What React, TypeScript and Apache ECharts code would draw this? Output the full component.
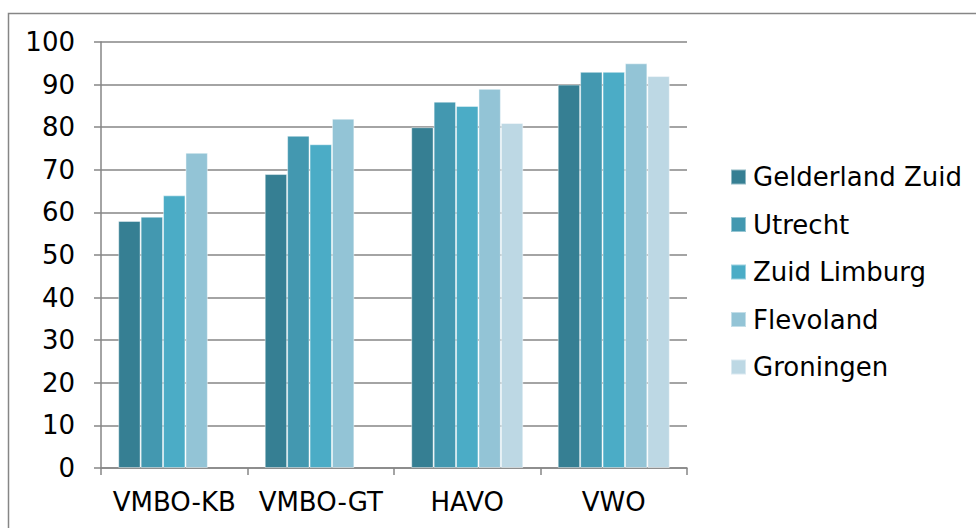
import React, { useEffect, useRef } from "react";
import * as echarts from "echarts";

const categories = ["VMBO-KB", "VMBO-GT", "HAVO", "VWO"];
const seriesNames = ["Gelderland Zuid", "Utrecht", "Zuid Limburg", "Flevoland", "Groningen"];
const gelderlandZuid = [58, 69, 80, 90];
const utrecht = [59, 78, 86, 93];
const zuidLimburg = [64, 76, 85, 93];
const flevoland = [74, 82, 89, 95];
const groningen = [null, null, 81, 92];
const colors = ["#367F93", "#4398B0", "#4BACC6", "#93C4D6", "#BDD8E4"];

export default function App() {
  const ref = useRef<HTMLDivElement>(null);
  useEffect(() => {
    if (!ref.current) return;
    const chart = echarts.init(ref.current, null, { renderer: "svg" });
    const data = [gelderlandZuid, utrecht, zuidLimburg, flevoland, groningen];
    const font = "DejaVu Sans, Verdana, sans-serif";
    chart.setOption({
      animation: false,
      color: colors,
      textStyle: { fontFamily: font },
      graphic: [
        {
          type: "rect",
          shape: { x: 8.5, y: 13.5, width: 980, height: 530 },
          style: { fill: "none", stroke: "#868686", lineWidth: 1.5 },
          silent: true,
        },
      ],
      grid: { left: 101, right: 289, top: 42, bottom: 60, containLabel: false },
      legend: {
        orient: "vertical",
        left: 730,
        top: 164,
        padding: 0,
        itemWidth: 15,
        itemHeight: 15,
        itemGap: 21.5,
        icon: "rect",
        textStyle: { fontSize: 26, color: "#000", fontFamily: font, padding: [0, 0, 0, 2] },
        data: seriesNames,
      },
      xAxis: {
        type: "category",
        data: categories,
        axisLine: { lineStyle: { color: "#868686", width: 1.5 } },
        axisTick: { show: true, length: 7, lineStyle: { color: "#868686", width: 1.5 } },
        axisLabel: { fontSize: 26, color: "#000", margin: 21, interval: 0, fontFamily: font },
      },
      yAxis: {
        type: "value",
        min: 0,
        max: 100,
        interval: 10,
        axisLine: { show: true, lineStyle: { color: "#868686", width: 1.5 } },
        axisTick: { show: true, length: 7, lineStyle: { color: "#868686", width: 1.5 } },
        splitLine: { show: true, lineStyle: { color: "#868686", width: 1.5 } },
        axisLabel: { fontSize: 26, color: "#000", margin: 26, fontFamily: font },
      },
      series: seriesNames.map((name, i) => ({
        name,
        type: "bar",
        data: data[i],
        barGap: "0%",
        barCategoryGap: "23.5%",
        itemStyle: { color: colors[i], borderColor: "rgba(255,255,255,0.45)", borderWidth: 1 },
      })),
    });
    return () => chart.dispose();
  }, []);
  return (
    <div
      ref={ref}
      style={{ position: "fixed", left: 0, top: 0, width: 976, height: 528, background: "#fff" }}
    />
  );
}
